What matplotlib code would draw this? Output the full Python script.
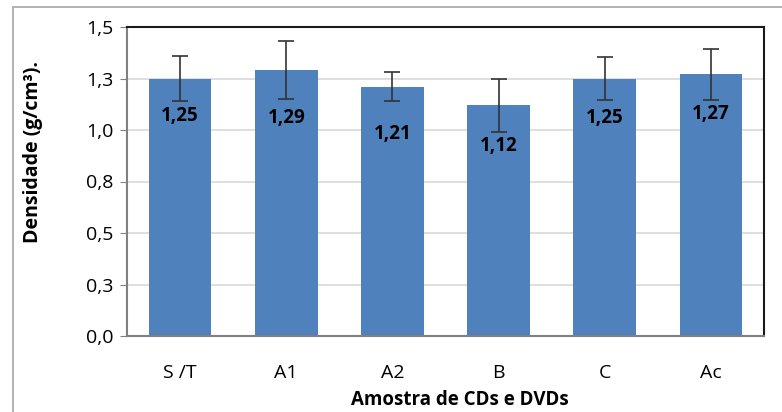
import matplotlib.pyplot as plt
from matplotlib.patches import Rectangle
from matplotlib.ticker import FuncFormatter
from decimal import Decimal, ROUND_HALF_UP

# Dados
amostras = ['S /T', 'A1', 'A2', 'B', 'C', 'Ac']
densidade = [1.25, 1.29, 1.21, 1.12, 1.25, 1.27]
erro = [0.11, 0.14, 0.07, 0.13, 0.105, 0.125]
label_drop = [0.18, 0.23, 0.23, 0.20, 0.19, 0.19]
yticks = [0, 0.25, 0.5, 0.75, 1.0, 1.25, 1.5]

plt.rcParams['font.family'] = ['Open Sans', 'DejaVu Sans']


def fmt_br(v, casas):
    # arredondamento estilo Excel (meio para cima) e vírgula decimal
    q = Decimal(1).scaleb(-casas)
    return str(Decimal(str(v)).quantize(q, rounding=ROUND_HALF_UP)).replace('.', ',')


fig = plt.figure(figsize=(7.82, 4.12), dpi=100)
W, H = 782, 412
ax = fig.add_axes([127 / W, 1 - 336 / H, (764 - 127) / W, (336 - 27) / H])

# moldura externa (cortada à direita e embaixo)
fig.patches.append(Rectangle((13 / W, -0.1), 2.0, 1 - 7 / H + 0.1, transform=fig.transFigure,
                             fill=False, edgecolor='#a6a6a6', lw=1.2, zorder=0))

x = range(len(amostras))
ax.bar(x, densidade, width=0.59, color='#4f81bd', zorder=2)
ax.errorbar(x, densidade, yerr=erro, fmt='none', ecolor='#333333', elinewidth=1.2,
            capsize=6, capthick=1.2, zorder=3)

for i, v in enumerate(densidade):
    ax.text(i, v - label_drop[i], fmt_br(v, 2), ha='center', va='center',
            fontsize=13.5, fontweight='bold', color='black', zorder=4)

ax.set_xlim(-0.5, len(amostras) - 0.5)
ax.set_ylim(0, 1.5)
ax.set_yticks(yticks)
ax.yaxis.set_major_formatter(FuncFormatter(lambda v, p: fmt_br(v, 1)))
ax.set_xticks(list(x))
ax.set_xticklabels(amostras)
ax.tick_params(axis='x', labelsize=14, length=0, pad=20)
ax.tick_params(axis='y', labelsize=14, length=5, color='#808080', pad=5)
ax.grid(axis='y', color='#d9d9d9', lw=1.2, zorder=0)
ax.set_axisbelow(True)

for side in ['top', 'right']:
    ax.spines[side].set_color('#1a1a1a')
    ax.spines[side].set_linewidth(1.5)
for side in ['left', 'bottom']:
    ax.spines[side].set_color('#808080')
    ax.spines[side].set_linewidth(1.5)

fig.text(460 / W, 1 - 400 / H, 'Amostra de CDs e DVDs', ha='center', va='center',
         fontsize=13.5, fontweight='bold')
fig.text(33 / W, 1 - 152 / H, 'Densidade (g/cm³).', ha='center', va='center',
         rotation=90, fontsize=14, fontweight='bold')

fig.savefig('out.png', dpi=100)
